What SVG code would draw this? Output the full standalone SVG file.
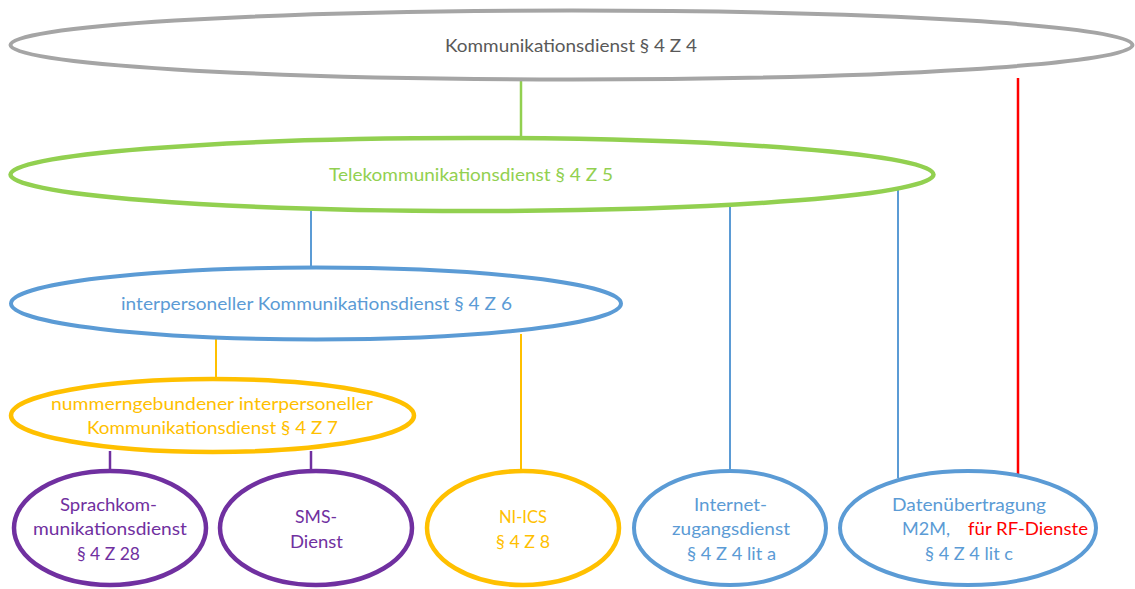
<svg xmlns="http://www.w3.org/2000/svg" width="1135" height="589" viewBox="0 0 1135 589">
<style>
text { font-family: Lato, "Open Sans", "Liberation Sans", sans-serif; font-size: 18px; }
.n { fill: #fff; }
.gray { stroke: #A5A5A5; stroke-width: 4; }
.green { stroke: #92D050; stroke-width: 4.5; }
.blue { stroke: #5B9BD5; stroke-width: 4; }
.yellow { stroke: #FFC000; stroke-width: 4.5; }
.purple { stroke: #7030A0; stroke-width: 4.5; }
.tgray { fill: #595959; }
.tgreen { fill: #92D050; }
.tblue { fill: #5B9BD5; }
.tyellow { fill: #FFC000; }
.tpurple { fill: #7030A0; }
.tred { fill: #FF0000; }
.c { fill: none; }
</style>
<rect width="1135" height="589" fill="#fff"/>
<g id="connectors">
<line class="c" x1="521" y1="80" x2="521" y2="138" stroke="#92D050" stroke-width="2.5"/>
<line class="c" x1="1018" y1="78" x2="1018" y2="474" stroke="#FF0000" stroke-width="2.5"/>
<line class="c" x1="311" y1="210" x2="311" y2="268" stroke="#5B9BD5" stroke-width="2"/>
<line class="c" x1="730" y1="205" x2="730" y2="472" stroke="#5B9BD5" stroke-width="2"/>
<line class="c" x1="898" y1="190" x2="898" y2="478" stroke="#5B9BD5" stroke-width="2"/>
<line class="c" x1="216" y1="339" x2="216" y2="380" stroke="#FFC000" stroke-width="2"/>
<line class="c" x1="521" y1="334" x2="521" y2="472" stroke="#FFC000" stroke-width="2"/>
<line class="c" x1="110" y1="451" x2="110" y2="471" stroke="#7030A0" stroke-width="2.5"/>
<line class="c" x1="311" y1="451" x2="311" y2="471" stroke="#7030A0" stroke-width="2.5"/>
</g>
<g id="kommunikationsdienst">
<ellipse class="n gray" cx="571.5" cy="45" rx="561" ry="34.5"/>
<text class="tgray" x="445" y="52" textLength="252" lengthAdjust="spacingAndGlyphs">Kommunikationsdienst § 4 Z 4</text>
</g>
<g id="telekommunikationsdienst">
<ellipse class="n green" cx="472" cy="174.5" rx="461.5" ry="36.5"/>
<text class="tgreen" x="329" y="181" textLength="284" lengthAdjust="spacingAndGlyphs">Telekommunikationsdienst § 4 Z 5</text>
</g>
<g id="interpersoneller">
<ellipse class="n blue" cx="316" cy="303.5" rx="305" ry="36"/>
<text class="tblue" x="121" y="310" textLength="391" lengthAdjust="spacingAndGlyphs">interpersoneller Kommunikationsdienst § 4 Z 6</text>
</g>
<g id="nummerngebunden">
<ellipse class="n yellow" cx="212.5" cy="415.5" rx="201.5" ry="36.5"/>
<text class="tyellow" x="51" y="410" textLength="322" lengthAdjust="spacingAndGlyphs">nummerngebundener interpersoneller</text>
<text class="tyellow" x="87" y="434" textLength="251" lengthAdjust="spacingAndGlyphs">Kommunikationsdienst § 4 Z 7</text>
</g>
<g id="sprachkommunikation">
<ellipse class="n purple" cx="110" cy="528" rx="96" ry="57"/>
<text class="tpurple" x="60" y="511" textLength="97" lengthAdjust="spacingAndGlyphs">Sprachkom-</text>
<text class="tpurple" x="33" y="535" textLength="154" lengthAdjust="spacingAndGlyphs">munikationsdienst</text>
<text class="tpurple" x="77" y="560" textLength="63" lengthAdjust="spacingAndGlyphs">§ 4 Z 28</text>
</g>
<g id="sms">
<ellipse class="n purple" cx="316" cy="528" rx="96" ry="57"/>
<text class="tpurple" x="295" y="523" textLength="42" lengthAdjust="spacingAndGlyphs">SMS-</text>
<text class="tpurple" x="290" y="548" textLength="53" lengthAdjust="spacingAndGlyphs">Dienst</text>
</g>
<g id="ni-ics">
<ellipse class="n yellow" cx="523" cy="528" rx="96" ry="57"/>
<text class="tyellow" x="499" y="523" textLength="48" lengthAdjust="spacingAndGlyphs">NI-ICS</text>
<text class="tyellow" x="496" y="548" textLength="54" lengthAdjust="spacingAndGlyphs">§ 4 Z 8</text>
</g>
<g id="internetzugangsdienst">
<ellipse class="n blue" cx="730" cy="528" rx="96" ry="57"/>
<text class="tblue" x="694" y="511" textLength="73" lengthAdjust="spacingAndGlyphs">Internet-</text>
<text class="tblue" x="672" y="535" textLength="118" lengthAdjust="spacingAndGlyphs">zugangsdienst</text>
<text class="tblue" x="687" y="560" textLength="89" lengthAdjust="spacingAndGlyphs">§ 4 Z 4 lit a</text>
</g>
<g id="datenuebertragung">
<ellipse class="n blue" cx="968" cy="528" rx="128" ry="57"/>
<text class="tblue" x="892" y="511" textLength="154" lengthAdjust="spacingAndGlyphs">Datenübertragung</text>
<text class="tblue" x="902" y="535" textLength="48" lengthAdjust="spacingAndGlyphs">M2M,</text>
<text class="tred" x="968" y="535" textLength="120" lengthAdjust="spacingAndGlyphs">für RF-Dienste</text>
<text class="tblue" x="925" y="560" textLength="88" lengthAdjust="spacingAndGlyphs">§ 4 Z 4 lit c</text>
</g>
</svg>
